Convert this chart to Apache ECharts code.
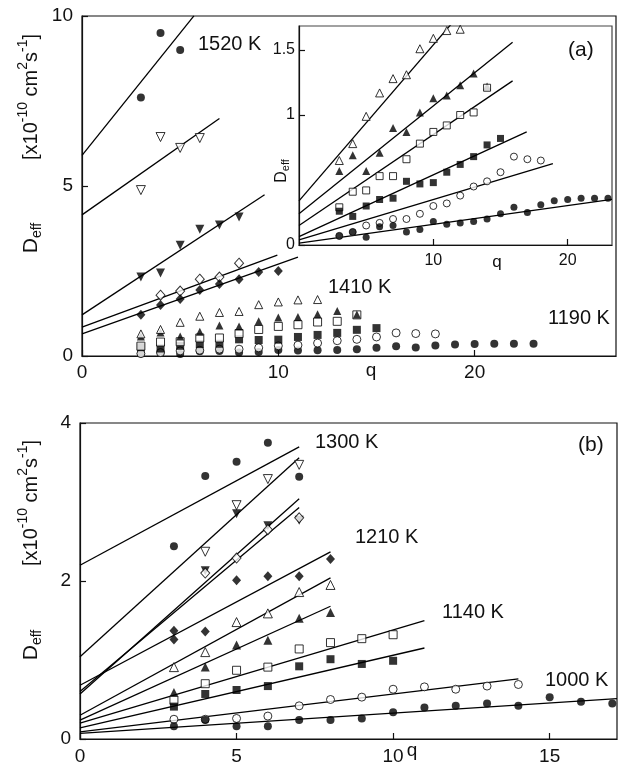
<!DOCTYPE html>
<html>
<head>
<meta charset="utf-8">
<script src="https://cdn.jsdelivr.net/npm/echarts@6/dist/echarts.min.js"></script>
<style>
  html, body { margin: 0; padding: 0; background: #fff; }
  #chart { width: 619px; height: 769px; }
</style>
</head>
<body>
<div id="chart"></div>
<script>
// ---------- panel (a): high-temperature group, main axes ----------
const qA_fc  = [3, 4, 5];
const dA_fc  = [7.6, 9.5, 9.0];
const qA_odt = [3, 4, 5, 6];
const dA_odt = [4.88, 6.44, 6.12, 6.41];
const qA_fdt = [3, 4, 5, 6, 7, 8];
const dA_fdt = [2.32, 2.44, 3.26, 3.73, 3.85, 4.09];
const qA_od  = [4, 5, 6, 7, 8];
const dA_od  = [1.79, 1.91, 2.26, 2.32, 2.73];
const qA_fd  = [3, 4, 5, 6, 7, 8, 9, 10];
const dA_fd  = [1.21, 1.50, 1.68, 1.94, 2.12, 2.26, 2.47, 2.50];
// fit lines: [intercept, slope, last q]
const fitA_fc  = [5.9, 0.72, 5.7];
const fitA_odt = [4.15, 0.405, 7.0];
const fitA_fdt = [1.21, 0.38, 9.3];
const fitA_od  = [0.85, 0.213, 9.95];
const fitA_fd  = [0.65, 0.205, 11.0];

// ---------- panel (a): low-temperature group (main axes + inset) ----------
const qI_ot = [3, 4, 5, 6, 7, 8, 9, 10, 11, 12];
const dI_ot = [0.65, 0.78, 0.99, 1.17, 1.28, 1.31, 1.51, 1.59, 1.65, 1.66];
const qI_ft = [3, 4, 5, 6, 7, 8, 9, 10, 11, 12, 13, 14];
const dI_ft = [0.57, 0.69, 0.57, 0.71, 0.90, 0.87, 1.02, 1.13, 1.15, 1.23, 1.32, 1.22];
const qI_os = [3, 4, 5, 6, 7, 8, 9, 10, 11, 12, 13, 14];
const dI_os = [0.29, 0.41, 0.42, 0.53, 0.53, 0.66, 0.78, 0.87, 0.92, 1.00, 1.02, 1.21];
const qI_fs = [3, 4, 5, 6, 7, 8, 9, 10, 11, 12, 13, 14, 15];
const dI_fs = [0.26, 0.22, 0.30, 0.35, 0.36, 0.49, 0.47, 0.48, 0.56, 0.62, 0.68, 0.77, 0.82];
const qI_oc = [3, 4, 5, 6, 7, 8, 9, 10, 11, 12, 13, 14, 15, 16, 17, 18];
const dI_oc = [0.07, 0.10, 0.15, 0.17, 0.20, 0.20, 0.24, 0.30, 0.32, 0.38, 0.45, 0.49, 0.56, 0.68, 0.66, 0.65];
const qI_fc = [3, 4, 5, 6, 7, 8, 9, 10, 11, 12, 13, 14, 15, 16, 17, 18, 19, 20, 21, 22, 23];
const dI_fc = [0.07, 0.10, 0.06, 0.14, 0.15, 0.10, 0.12, 0.18, 0.16, 0.17, 0.18, 0.20, 0.24, 0.29, 0.25, 0.31, 0.34, 0.35, 0.36, 0.36, 0.36];
const fitI_ot = [0.34, 0.12, 11.3];
const fitI_ft = [0.24, 0.083, 15.9];
const fitI_os = [0.15, 0.07, 15.9];
const fitI_fs = [0.065, 0.0475, 16.95];
const fitI_oc = [0.04, 0.031, 18.9];
const fitI_fc = [0.015, 0.0144, 23.3];

// ---------- panel (b) ----------
const qB_fc  = [3, 4, 5, 6, 7];
const dB_fc  = [2.44, 3.33, 3.51, 3.75, 3.32];
const qB_odt = [4, 5, 6, 7];
const dB_odt = [2.37, 2.96, 3.29, 3.47];
const qB_fdt = [4, 5, 6, 7];
const dB_fdt = [2.13, 2.85, 2.70, 2.77];
const qB_od  = [4, 5, 6, 7];
const dB_od  = [2.10, 2.29, 2.65, 2.80];
const qB_fd  = [3, 3, 4, 5, 6, 7, 8];
const dB_fd  = [1.37, 1.26, 1.36, 2.01, 2.06, 2.06, 2.28];
const qB_ot  = [3, 4, 5, 6, 7, 8];
const dB_ot  = [0.91, 1.10, 1.48, 1.59, 1.86, 1.95];
const qB_ft  = [3, 4, 5, 6, 7, 8];
const dB_ft  = [0.59, 0.91, 1.19, 1.25, 1.53, 1.60];
const qB_os  = [3, 4, 5, 6, 7, 8, 9, 10];
const dB_os  = [0.49, 0.70, 0.87, 0.91, 1.14, 1.22, 1.27, 1.32];
const qB_fs  = [3, 4, 5, 6, 7, 8, 9, 10];
const dB_fs  = [0.41, 0.57, 0.62, 0.67, 0.92, 1.01, 0.95, 0.99];
const qB_oc  = [3, 4, 5, 6, 7, 8, 9, 10, 11, 12, 13, 14];
const dB_oc  = [0.25, 0.25, 0.26, 0.29, 0.42, 0.50, 0.53, 0.63, 0.66, 0.63, 0.67, 0.69];
const qB_fcl = [3, 4, 5, 6, 7, 8, 9, 10, 11, 12, 13, 14, 15, 16, 17];
const dB_fcl = [0.16, 0.24, 0.16, 0.16, 0.24, 0.24, 0.26, 0.34, 0.40, 0.42, 0.45, 0.42, 0.53, 0.47, 0.45];
const fitB_fc  = [2.2, 0.214, 7.0];
const fitB_odt = [1.04, 0.36, 7.0];
const fitB_fdt = [0.57, 0.353, 7.0];
const fitB_od  = [0.60, 0.333, 7.0];
const fitB_fd  = [0.68, 0.211, 8.0];
const fitB_ot  = [0.30, 0.2175, 8.0];
const fitB_ft  = [0.24, 0.18, 8.0];
const fitB_os  = [0.20, 0.118, 11.0];
const fitB_fs  = [0.14, 0.092, 11.0];
const fitB_oc  = [0.09, 0.048, 14.0];
const fitB_fcl = [0.07, 0.0257, 17.15];

// tick values
const ticksAx = [0, 10, 20];
const ticksAy = [0, 5, 10];
const ticksIx = [10, 20];
const ticksIy = [0, 1, 1.5];
const ticksBx = [0, 5, 10, 15];
const ticksBy = [0, 2, 4];

const FONT = '"Liberation Sans", Arial, Helvetica, sans-serif';
const INK = '#111';

function zip(qs, ds) { return qs.map((q, i) => [q, ds[i]]); }

function marks(axis, qs, ds, shape, filled, size, rotate) {
  return {
    type: 'scatter', xAxisIndex: axis, yAxisIndex: axis,
    data: zip(qs, ds), symbol: shape, symbolSize: size,
    symbolRotate: rotate || 0, silent: true, z: 3,
    itemStyle: filled
      ? { color: '#000', borderWidth: 0 }
      : { color: '#fff', borderColor: '#000', borderWidth: 1 }
  };
}

function fitLine(axis, f) {
  const [b, m, qEnd] = f;
  return {
    type: 'line', xAxisIndex: axis, yAxisIndex: axis,
    data: [[0, b], [qEnd, b + m * qEnd]],
    symbol: 'none', silent: true, clip: true, z: 2,
    lineStyle: { color: '#000', width: 1.3 }
  };
}

function valueAxis(grid, min, max, ticks, fontSize, margin) {
  return {
    type: 'value', gridIndex: grid, min: min, max: max,
    axisLine: { show: true, onZero: false, lineStyle: { color: INK, width: 1.2 } },
    axisTick: { show: true, inside: true, length: 6, customValues: ticks, lineStyle: { color: INK, width: 1.2 } },
    axisLabel: { customValues: ticks, fontSize: fontSize, fontFamily: FONT, color: INK, margin: margin },
    splitLine: { show: false }
  };
}

function label(text, x, y, size, align) {
  return {
    type: 'text', x: x, y: y, z: 10,
    style: { text: text, fontSize: size, fontFamily: FONT, fill: INK,
             align: align || 'left', verticalAlign: 'middle' }
  };
}

// vertical (bottom-to-top) text built from pieces with their own size and baseline shift
const measureCtx = document.createElement('canvas').getContext('2d');
function textWidth(t, size) {
  measureCtx.font = size + 'px ' + FONT;
  return measureCtx.measureText(t).width;
}
function verticalText(cx, cy, parts) {
  const widths = parts.map(p => textWidth(p[0], p[1]));
  const total = widths.reduce((a, b) => a + b, 0);
  let pos = -total / 2;
  const children = parts.map((p, i) => {
    const el = {
      type: 'text', x: pos, y: p[2],
      style: { text: p[0], fontSize: p[1], fontFamily: FONT, fill: INK,
               align: 'left', verticalAlign: 'middle' }
    };
    pos += widths[i];
    return el;
  });
  return { type: 'group', x: cx, y: cy, rotation: Math.PI / 2, z: 10, children: children };
}
function unitLabel(x, y) {
  return verticalText(x, y, [
    ['[x10', 20, 0], ['-10', 14, -8], [' cm', 20, 0], ['2', 14, -8],
    ['s', 20, 0], ['-1', 14, -8], [']', 20, 0]
  ]);
}
function deffLabel(x, y, big, small) {
  return verticalText(x, y, [['D', big, 0], ['eff', small, Math.round(big * 0.28)]]);
}

const chart = echarts.init(document.getElementById('chart'), null, { renderer: 'canvas' });

const option = {
  animation: false,
  backgroundColor: '#fff',
  grid: [
    { left: 82, top: 16, width: 534, height: 340, show: true, borderColor: INK, borderWidth: 1.2, backgroundColor: 'transparent' },
    { left: 299, top: 26, width: 313, height: 219, show: true, borderColor: '#444', borderWidth: 1.2, backgroundColor: '#fff' },
    { left: 80, top: 423, width: 537, height: 316, show: true, borderColor: INK, borderWidth: 1.2, backgroundColor: 'transparent' }
  ],
  xAxis: [
    valueAxis(0, 0, 27.2, ticksAx, 19, 7),
    valueAxis(1, 0, 23.3, ticksIx, 16, 8),
    valueAxis(2, 0, 17.15, ticksBx, 19, 8)
  ],
  yAxis: [
    valueAxis(0, 0, 10, ticksAy, 19, 9),
    valueAxis(1, 0, 1.685, ticksIy, 16, 4),
    valueAxis(2, 0, 4, ticksBy, 19, 9)
  ],
  series: [
    // panel (a) high-temperature fits and points
    fitLine(0, fitA_fc), fitLine(0, fitA_odt), fitLine(0, fitA_fdt), fitLine(0, fitA_od), fitLine(0, fitA_fd),
    marks(0, qA_fc, dA_fc, 'circle', true, 8),
    marks(0, qA_odt, dA_odt, 'triangle', false, 9, 180),
    marks(0, qA_fdt, dA_fdt, 'triangle', true, 9, 180),
    marks(0, qA_od, dA_od, 'diamond', false, [9, 10]),
    marks(0, qA_fd, dA_fd, 'diamond', true, [9, 10]),
    // panel (a) low-temperature points on the main axes
    marks(0, qI_fc, dI_fc, 'circle', true, 8),
    marks(0, qI_oc, dI_oc, 'circle', false, 8),
    marks(0, qI_fs, dI_fs, 'rect', true, 8),
    marks(0, qI_os, dI_os, 'rect', false, 8),
    marks(0, qI_ft, dI_ft, 'triangle', true, 8),
    marks(0, qI_ot, dI_ot, 'triangle', false, 8),
    // inset
    fitLine(1, fitI_ot), fitLine(1, fitI_ft), fitLine(1, fitI_os),
    fitLine(1, fitI_fs), fitLine(1, fitI_oc), fitLine(1, fitI_fc),
    marks(1, qI_ot, dI_ot, 'triangle', false, 8),
    marks(1, qI_ft, dI_ft, 'triangle', true, 8),
    marks(1, qI_os, dI_os, 'rect', false, 7),
    marks(1, qI_fs, dI_fs, 'rect', true, 7),
    marks(1, qI_oc, dI_oc, 'circle', false, 7),
    marks(1, qI_fc, dI_fc, 'circle', true, 7),
    // panel (b)
    fitLine(2, fitB_fc), fitLine(2, fitB_odt), fitLine(2, fitB_fdt), fitLine(2, fitB_od),
    fitLine(2, fitB_fd), fitLine(2, fitB_ot), fitLine(2, fitB_ft), fitLine(2, fitB_os),
    fitLine(2, fitB_fs), fitLine(2, fitB_oc), fitLine(2, fitB_fcl),
    marks(2, qB_fc, dB_fc, 'circle', true, 8),
    marks(2, qB_odt, dB_odt, 'triangle', false, 9, 180),
    marks(2, qB_fdt, dB_fdt, 'triangle', true, 9, 180),
    marks(2, qB_od, dB_od, 'diamond', false, [9, 10]),
    marks(2, qB_fd, dB_fd, 'diamond', true, [9, 10]),
    marks(2, qB_ot, dB_ot, 'triangle', false, 9),
    marks(2, qB_ft, dB_ft, 'triangle', true, 9),
    marks(2, qB_os, dB_os, 'rect', false, 8),
    marks(2, qB_fs, dB_fs, 'rect', true, 8),
    marks(2, qB_oc, dB_oc, 'circle', false, 8),
    marks(2, qB_fcl, dB_fcl, 'circle', true, 8)
  ],
  graphic: [
    label('1520 K', 198, 44, 20),
    label('1410 K', 328, 287, 20),
    label('1190 K', 548, 318, 20),
    label('(a)', 568, 50, 21),
    label('q', 371, 371, 19, 'center'),
    label('q', 497, 262, 17, 'center'),
    unitLabel(31, 97),
    deffLabel(31, 238, 21, 14),
    deffLabel(282, 171, 16, 11),
    label('(b)', 578, 445, 21),
    label('1300 K', 315, 442, 20),
    label('1210 K', 355, 537, 20),
    label('1140 K', 442, 612, 20),
    label('1000 K', 545, 680, 20),
    label('q', 412, 751, 19, 'center'),
    unitLabel(31, 503),
    deffLabel(31, 645, 21, 14)
  ]
};

chart.setOption(option);
</script>
</body>
</html>
